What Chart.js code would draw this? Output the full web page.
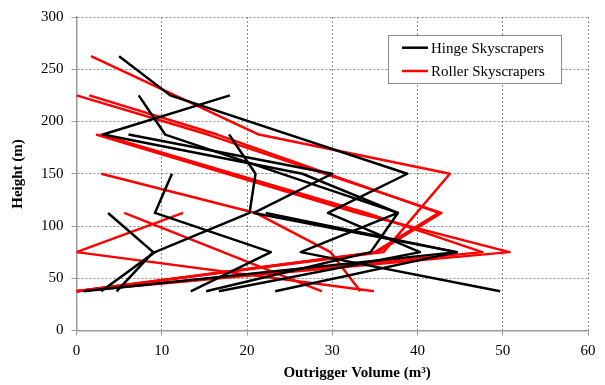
<!DOCTYPE html>
<html>
<head>
<meta charset="utf-8">
<script src="https://cdn.jsdelivr.net/npm/chart.js@4"></script>
<style>
  html, body { margin: 0; padding: 0; background: #fff; }
  #wrap { width: 605px; height: 385px; }
</style>
</head>
<body>
<div id="wrap"><canvas id="chart" width="605" height="385"></canvas></div>
<script>
// Outrigger volume (m³) against outrigger height (m), one path per building.

// Hinge skyscrapers
const hinge1Height = [262.5, 225, 150, 112.5, 75, 37.5];
const hinge1Volume = [5, 11, 38.8, 29.5, 40.3, 16.7];
const hinge2Height = [225, 187.5, 150, 112.5, 75, 37.5];
const hinge2Volume = [18, 3.1, 26.5, 37.7, 26.3, 49.7];
const hinge3Height = [225, 187.5, 112.5, 75, 37.5];
const hinge3Volume = [7.3, 10.4, 37.7, 34.5, 15.2];
const hinge4Height = [150, 112.5, 75, 37.5];
const hinge4Volume = [11.2, 9.2, 22.8, 13.4];
const hinge5Height = [112.5, 75, 37.5];
const hinge5Volume = [3.7, 9, 4.7];
const hinge6Height = [187.5, 150, 112.5, 75, 37.5];
const hinge6Volume = [17.9, 21, 20.3, 9.2, 2.9];
const hinge7Height = [187.5, 150, 112.5, 75, 37.5];
const hinge7Volume = [6.1, 30, 20.8, 44.6, 0.8];
const hinge8Height = [112.5, 75, 37.5];
const hinge8Volume = [22.2, 44.6, 23.3];

// Roller skyscrapers
const roller1Height = [262.5, 187.5, 150, 75, 37.5];
const roller1Volume = [1.7, 21.4, 43.8, 36, 0];
const roller2Height = [112.5, 75, 37.5];
const roller2Volume = [12.5, 0, 34.9];
const roller3Height = [112.5, 37.5];
const roller3Volume = [5.6, 28.8];
const roller4Height = [150, 112.5, 75, 37.5];
const roller4Volume = [2.9, 21, 29.8, 33.3];
const roller5Height = [225, 187.5, 112.5, 75, 37.5];
const roller5Volume = [0, 15.4, 42.8, 35.3, 0];
const roller6Height = [225, 187.5, 112.5, 75, 37.5];
const roller6Volume = [1.5, 16.5, 42.5, 35, 0];
const roller7Height = [187.5, 112.5, 75, 37.5];
const roller7Volume = [2.3, 33, 50.8, 0];
const roller8Height = [187.5, 112.5, 75, 37.5];
const roller8Volume = [2.8, 34, 47.6, 0];

// Axis ticks
const xTicks = [0, 10, 20, 30, 40, 50, 60];
const yTicks = [0, 50, 100, 150, 200, 250, 300];

const seriesNames = ['Hinge Skyscrapers', 'Roller Skyscrapers'];
const seriesColors = ['#000000', '#ff0000'];

const hingePaths = [
  [hinge1Volume, hinge1Height], [hinge2Volume, hinge2Height], [hinge3Volume, hinge3Height],
  [hinge4Volume, hinge4Height], [hinge5Volume, hinge5Height], [hinge6Volume, hinge6Height],
  [hinge7Volume, hinge7Height], [hinge8Volume, hinge8Height]
];
const rollerPaths = [
  [roller1Volume, roller1Height], [roller2Volume, roller2Height], [roller3Volume, roller3Height],
  [roller4Volume, roller4Height], [roller5Volume, roller5Height], [roller6Volume, roller6Height],
  [roller7Volume, roller7Height], [roller8Volume, roller8Height]
];

function toPoints(vol, ht) {
  return vol.map((v, i) => ({ x: v, y: ht[i] }));
}

function makeSets(paths, seriesIndex) {
  return paths.map(([vol, ht], i) => ({
    label: i === 0 ? seriesNames[seriesIndex] : '',
    data: toPoints(vol, ht),
    showLine: true,
    borderColor: seriesColors[seriesIndex],
    backgroundColor: seriesColors[seriesIndex],
    borderWidth: 2.5,
    borderJoinStyle: 'round',
    pointRadius: 0,
    pointHoverRadius: 0,
    tension: 0
  }));
}

const FONT = "'Liberation Serif', 'Times New Roman', serif";

// Axis titles and boxed legend drawn on top of the plot
const decorations = {
  id: 'decorations',
  afterDraw(chart) {
    const ctx = chart.ctx;
    ctx.save();
    ctx.fillStyle = '#000';
    ctx.font = 'bold 15px ' + FONT;
    ctx.textAlign = 'center';
    ctx.textBaseline = 'middle';
    ctx.fillText('Outrigger Volume (m³)', 357, 373);
    ctx.translate(18, 174);
    ctx.rotate(-Math.PI / 2);
    ctx.fillText('Height (m)', 0, 0);
    ctx.restore();

    // legend box
    ctx.save();
    ctx.fillStyle = '#fff';
    ctx.fillRect(388.5, 35.5, 173, 48);
    ctx.strokeStyle = '#8c8c8c';
    ctx.lineWidth = 1;
    ctx.strokeRect(388.5, 35.5, 173, 48);
    const rows = [47.7, 71];
    ctx.font = '15px ' + FONT;
    ctx.textAlign = 'left';
    ctx.textBaseline = 'middle';
    rows.forEach((y, i) => {
      ctx.strokeStyle = seriesColors[i];
      ctx.lineWidth = 2.5;
      ctx.beginPath();
      ctx.moveTo(402, y);
      ctx.lineTo(428, y);
      ctx.stroke();
      ctx.fillStyle = '#000';
      ctx.fillText(seriesNames[i], 431, y + 1);
    });
    ctx.restore();
  }
};

new Chart(document.getElementById('chart'), {
  type: 'scatter',
  data: { datasets: [...makeSets(hingePaths, 0), ...makeSets(rollerPaths, 1)] },
  options: {
    responsive: false,
    animation: false,
    devicePixelRatio: 1,
    layout: { padding: { top: 17, right: 17, left: 0, bottom: 0 } },
    plugins: { legend: { display: false }, tooltip: { enabled: false } },
    scales: {
      x: {
        type: 'linear',
        min: 0, max: 60,
        afterBuildTicks: (s) => { s.ticks = xTicks.map(v => ({ value: v })); },
        afterFit: (s) => { s.height = 54.5; },
        ticks: { color: '#000', font: { family: FONT, size: 15 }, padding: 7 },
        grid: { color: '#8a8a8a', lineWidth: 1, tickLength: 5, tickColor: '#9a9a9a', tickBorderDash: [] },
        border: { display: true, color: '#9a9a9a', width: 1.5, dash: [2, 2] }
      },
      y: {
        type: 'linear',
        min: 0, max: 300,
        afterBuildTicks: (s) => { s.ticks = yTicks.map(v => ({ value: v })); },
        afterFit: (s) => { s.width = 76.5; },
        ticks: { color: '#000', font: { family: FONT, size: 15 }, padding: 8 },
        grid: { color: '#8a8a8a', lineWidth: 1, tickLength: 5, tickColor: '#9a9a9a', tickBorderDash: [] },
        border: { display: true, color: '#9a9a9a', width: 1.5, dash: [2, 2] }
      }
    }
  },
  plugins: [decorations]
});
</script>
</body>
</html>
